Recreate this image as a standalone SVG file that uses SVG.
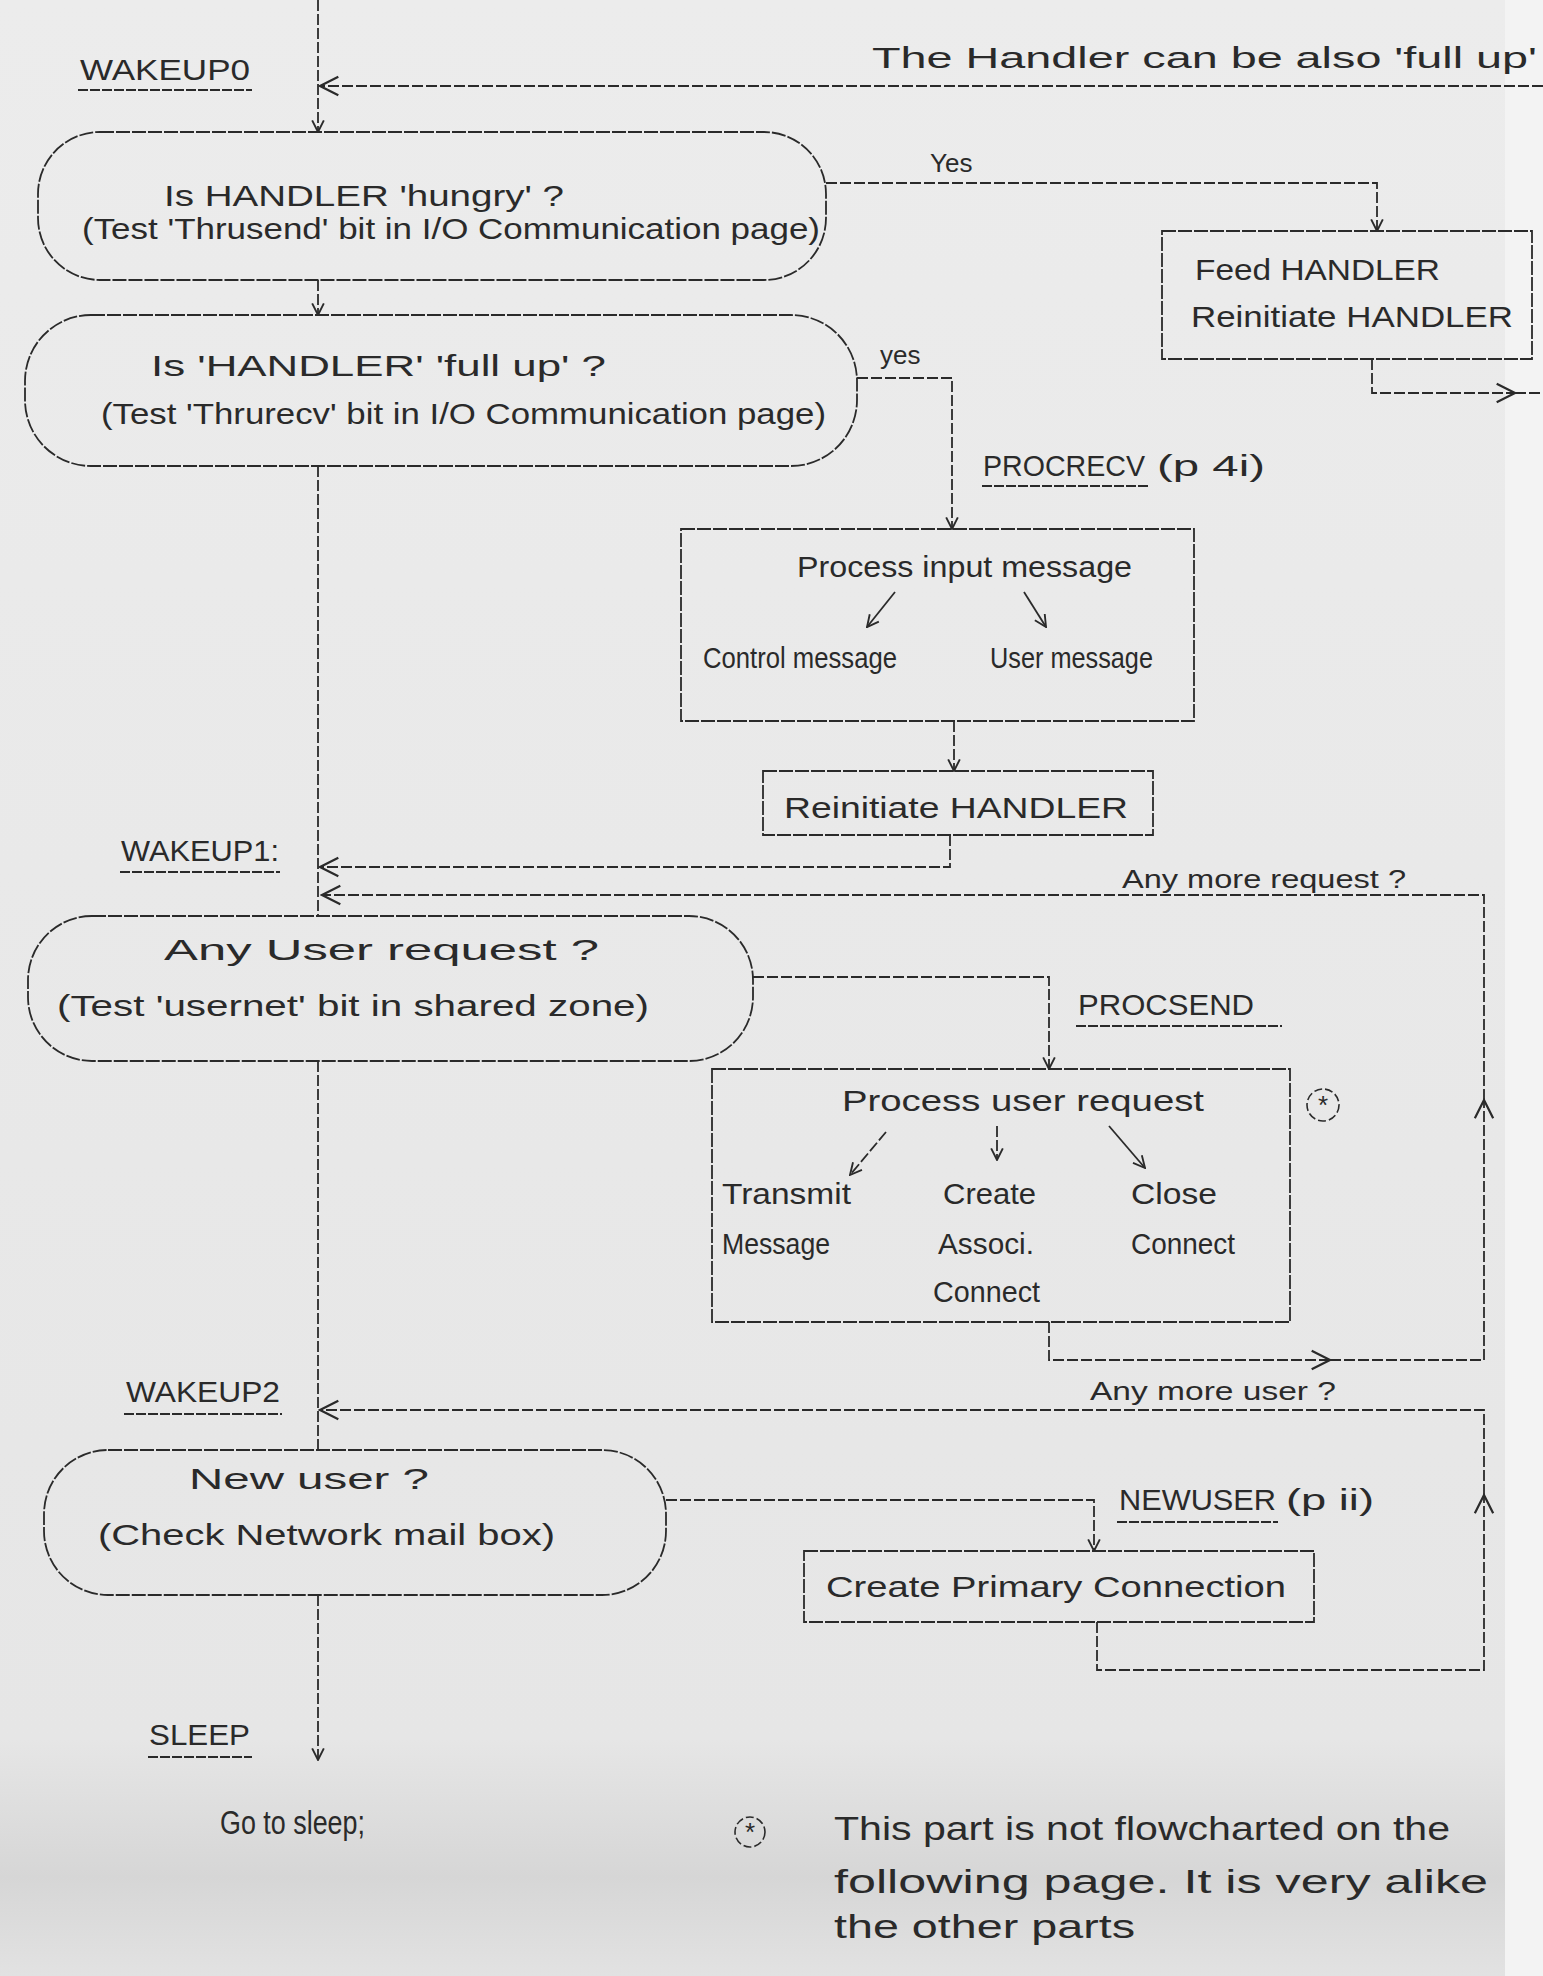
<svg xmlns="http://www.w3.org/2000/svg" width="1543" height="1976" viewBox="0 0 1543 1976">
<defs>
<linearGradient id="bg" x1="0" y1="0" x2="0" y2="1">
<stop offset="0" stop-color="#ececec"/>
<stop offset="0.88" stop-color="#e6e6e6"/>
<stop offset="0.95" stop-color="#d6d6d6"/>
<stop offset="1" stop-color="#e2e2e2"/>
</linearGradient>
<marker id="ah" viewBox="0 0 12 12" refX="11" refY="6" markerWidth="14" markerHeight="14" markerUnits="userSpaceOnUse" orient="auto">
<path d="M1,1 L11,6 L1,11" fill="none" stroke="#2a2a2a" stroke-width="1.6"/>
</marker>
<marker id="ahb" viewBox="0 0 12 12" refX="11" refY="6" markerWidth="22" markerHeight="22" markerUnits="userSpaceOnUse" orient="auto">
<path d="M1,1 L11,6 L1,11" fill="none" stroke="#2a2a2a" stroke-width="1.2"/>
</marker>
<style>
.ln{fill:none;stroke:#2a2a2a;stroke-width:1.8;stroke-dasharray:11 3}
.sl{fill:none;stroke:#2a2a2a;stroke-width:1.8}
.nd{fill:none;stroke:#2a2a2a;stroke-width:1.8;stroke-dasharray:14 2}
.t{font-family:"Liberation Sans",Arial,sans-serif;font-size:29px;fill:#2a2a2a}
.s{font-family:"Liberation Sans",Arial,sans-serif;font-size:26px;fill:#2a2a2a}
.f{font-family:"Liberation Sans",Arial,sans-serif;font-size:33px;fill:#2a2a2a}
.ul{stroke:#2a2a2a;stroke-width:2;stroke-dasharray:10 2}
</style>
</defs>
<rect x="0" y="0" width="1543" height="1976" fill="url(#bg)"/>
<rect x="1505" y="0" width="38" height="1976" fill="#f3f3f3"/>

<g id="connectors">
<line class="ln" x1="318" y1="0" x2="318" y2="132" marker-end="url(#ah)"/>
<line class="ln" x1="318" y1="280" x2="318" y2="315" marker-end="url(#ah)"/>
<line class="ln" x1="318" y1="466" x2="318" y2="916"/>
<line class="ln" x1="318" y1="1061" x2="318" y2="1450"/>
<line class="ln" x1="318" y1="1595" x2="318" y2="1760" marker-end="url(#ah)"/>
<line class="ln" x1="1543" y1="86" x2="320" y2="86" marker-end="url(#ahb)"/>
<polyline class="ln" points="826,183 1377,183 1377,231" marker-end="url(#ah)"/>
<polyline class="ln" points="1372,359 1372,393 1515,393" marker-end="url(#ahb)"/>
<line class="ln" x1="1515" y1="393" x2="1543" y2="393"/>
<polyline class="ln" points="857,378 952,378 952,529" marker-end="url(#ah)"/>
<line class="ln" x1="954" y1="721" x2="954" y2="771" marker-end="url(#ah)"/>
<polyline class="ln" points="950,835 950,867 320,867" marker-end="url(#ahb)"/>
<polyline class="ln" points="753,977 1049,977 1049,1069" marker-end="url(#ah)"/>
<polyline class="ln" points="1049,1322 1049,1360 1330,1360" marker-end="url(#ahb)"/>
<polyline class="ln" points="1330,1360 1484,1360 1484,1100" marker-end="url(#ahb)"/>
<polyline class="ln" points="1484,1100 1484,895 322,895" marker-end="url(#ahb)"/>
<polyline class="ln" points="666,1500 1094,1500 1094,1551" marker-end="url(#ah)"/>
<polyline class="ln" points="1097,1622 1097,1670 1484,1670 1484,1495" marker-end="url(#ahb)"/>
<polyline class="ln" points="1484,1495 1484,1410 320,1410" marker-end="url(#ahb)"/>
</g>

<g id="label-wakeup0">
<text class="t" x="80" y="80" textLength="170" lengthAdjust="spacingAndGlyphs">WAKEUP0</text>
<line class="ul" x1="78" y1="90" x2="252" y2="90"/>
</g>
<text class="t" x="872" y="68" textLength="665" lengthAdjust="spacingAndGlyphs">The Handler can be also 'full up'</text>

<g id="node-hungry">
<rect class="nd" x="38" y="132" width="788" height="148" rx="62" ry="62"/>
<text class="t" x="164" y="206" textLength="400" lengthAdjust="spacingAndGlyphs">Is HANDLER 'hungry' ?</text>
<text class="t" x="82" y="239" textLength="738" lengthAdjust="spacingAndGlyphs">(Test 'Thrusend' bit in I/O Communication page)</text>
</g>
<text class="s" x="930" y="172">Yes</text>

<g id="node-feed">
<rect class="nd" x="1162" y="231" width="370" height="128"/>
<text class="t" x="1195" y="280" textLength="245" lengthAdjust="spacingAndGlyphs">Feed HANDLER</text>
<text class="t" x="1191" y="327" textLength="322" lengthAdjust="spacingAndGlyphs">Reinitiate HANDLER</text>
</g>

<g id="node-fullup">
<rect class="nd" x="25" y="315" width="832" height="151" rx="66" ry="66"/>
<text class="t" x="151" y="376" textLength="455" lengthAdjust="spacingAndGlyphs">Is 'HANDLER' 'full up' ?</text>
<text class="t" x="101" y="424" textLength="725" lengthAdjust="spacingAndGlyphs">(Test 'Thrurecv' bit in I/O Communication page)</text>
</g>
<text class="s" x="880" y="364">yes</text>

<g id="label-procrecv">
<text class="t" x="983" y="476" textLength="162" lengthAdjust="spacingAndGlyphs">PROCRECV</text>
<line class="ul" x1="982" y1="486" x2="1150" y2="486"/>
<text class="t" x="1157" y="476" textLength="108" lengthAdjust="spacingAndGlyphs">(p 4i)</text>
</g>

<g id="node-process-input">
<rect class="nd" x="681" y="529" width="513" height="192"/>
<text class="t" x="797" y="577" textLength="335" lengthAdjust="spacingAndGlyphs">Process input message</text>
<line class="sl" x1="895" y1="592" x2="867" y2="627" marker-end="url(#ah)"/>
<line class="sl" x1="1024" y1="592" x2="1046" y2="627" marker-end="url(#ah)"/>
<text class="t" x="703" y="668" textLength="194" lengthAdjust="spacingAndGlyphs">Control message</text>
<text class="t" x="990" y="668" textLength="163" lengthAdjust="spacingAndGlyphs">User message</text>
</g>

<g id="node-reinit">
<rect class="nd" x="763" y="771" width="390" height="64"/>
<text class="t" x="784" y="818" textLength="344" lengthAdjust="spacingAndGlyphs">Reinitiate HANDLER</text>
</g>

<g id="label-wakeup1">
<text class="t" x="121" y="861" textLength="158" lengthAdjust="spacingAndGlyphs">WAKEUP1:</text>
<line class="ul" x1="120" y1="872" x2="280" y2="872"/>
</g>
<text class="s" x="1122" y="888" textLength="284" lengthAdjust="spacingAndGlyphs">Any more request ?</text>

<g id="node-user-request">
<rect class="nd" x="28" y="916" width="725" height="145" rx="64" ry="64"/>
<text class="t" x="164" y="960" textLength="435" lengthAdjust="spacingAndGlyphs">Any User request ?</text>
<text class="t" x="57" y="1016" textLength="592" lengthAdjust="spacingAndGlyphs">(Test 'usernet' bit in shared zone)</text>
</g>

<g id="label-procsend">
<text class="t" x="1078" y="1015" textLength="176" lengthAdjust="spacingAndGlyphs">PROCSEND</text>
<line class="ul" x1="1076" y1="1026" x2="1282" y2="1026"/>
</g>

<g id="node-process-user">
<rect class="nd" x="712" y="1069" width="578" height="253"/>
<text class="t" x="842" y="1111" textLength="362" lengthAdjust="spacingAndGlyphs">Process user request</text>
<line class="ln" x1="886" y1="1132" x2="850" y2="1175" marker-end="url(#ah)"/>
<line class="ln" x1="997" y1="1126" x2="997" y2="1160" marker-end="url(#ah)"/>
<line class="sl" x1="1109" y1="1126" x2="1145" y2="1168" marker-end="url(#ah)"/>
<text class="t" x="722" y="1204" textLength="129" lengthAdjust="spacingAndGlyphs">Transmit</text>
<text class="t" x="722" y="1254" textLength="108" lengthAdjust="spacingAndGlyphs">Message</text>
<text class="t" x="943" y="1204" textLength="93" lengthAdjust="spacingAndGlyphs">Create</text>
<text class="t" x="938" y="1254" textLength="96" lengthAdjust="spacingAndGlyphs">Associ.</text>
<text class="t" x="933" y="1302" textLength="107" lengthAdjust="spacingAndGlyphs">Connect</text>
<text class="t" x="1131" y="1204" textLength="86" lengthAdjust="spacingAndGlyphs">Close</text>
<text class="t" x="1131" y="1254" textLength="104" lengthAdjust="spacingAndGlyphs">Connect</text>
</g>
<g id="note-mark-1">
<circle cx="1323" cy="1105" r="16" fill="none" stroke="#2a2a2a" stroke-width="1.6" stroke-dasharray="8 3"/>
<text class="s" x="1323" y="1114" text-anchor="middle" font-size="20">*</text>
</g>

<g id="label-wakeup2">
<text class="t" x="126" y="1402" textLength="154" lengthAdjust="spacingAndGlyphs">WAKEUP2</text>
<line class="ul" x1="124" y1="1414" x2="282" y2="1414"/>
</g>
<text class="s" x="1090" y="1400" textLength="246" lengthAdjust="spacingAndGlyphs">Any more user ?</text>

<g id="node-new-user">
<rect class="nd" x="44" y="1450" width="622" height="145" rx="64" ry="64"/>
<text class="t" x="189" y="1489" textLength="240" lengthAdjust="spacingAndGlyphs">New user ?</text>
<text class="t" x="98" y="1545" textLength="457" lengthAdjust="spacingAndGlyphs">(Check Network mail box)</text>
</g>

<g id="label-newuser">
<text class="t" x="1119" y="1510" textLength="157" lengthAdjust="spacingAndGlyphs">NEWUSER</text>
<line class="ul" x1="1117" y1="1522" x2="1278" y2="1522"/>
<text class="t" x="1286" y="1510" textLength="88" lengthAdjust="spacingAndGlyphs">(p ii)</text>
</g>

<g id="node-create-primary">
<rect class="nd" x="804" y="1551" width="510" height="71"/>
<text class="t" x="826" y="1597" textLength="460" lengthAdjust="spacingAndGlyphs">Create Primary Connection</text>
</g>

<g id="label-sleep">
<text class="t" x="149" y="1745" textLength="101" lengthAdjust="spacingAndGlyphs">SLEEP</text>
<line class="ul" x1="148" y1="1757" x2="252" y2="1757"/>
</g>
<g id="node-go-to-sleep">
<text class="f" x="220" y="1834" textLength="145" lengthAdjust="spacingAndGlyphs">Go to sleep;</text>
</g>

<g id="footnote">
<circle cx="750" cy="1832" r="15" fill="none" stroke="#2a2a2a" stroke-width="1.6" stroke-dasharray="8 3"/>
<text class="s" x="750" y="1841" text-anchor="middle" font-size="20">*</text>
<text class="f" x="834" y="1840" textLength="616" lengthAdjust="spacingAndGlyphs">This part is not flowcharted on the</text>
<text class="f" x="834" y="1893" textLength="654" lengthAdjust="spacingAndGlyphs">following page. It is very alike</text>
<text class="f" x="834" y="1938" textLength="301" lengthAdjust="spacingAndGlyphs">the other parts</text>
</g>
</svg>
